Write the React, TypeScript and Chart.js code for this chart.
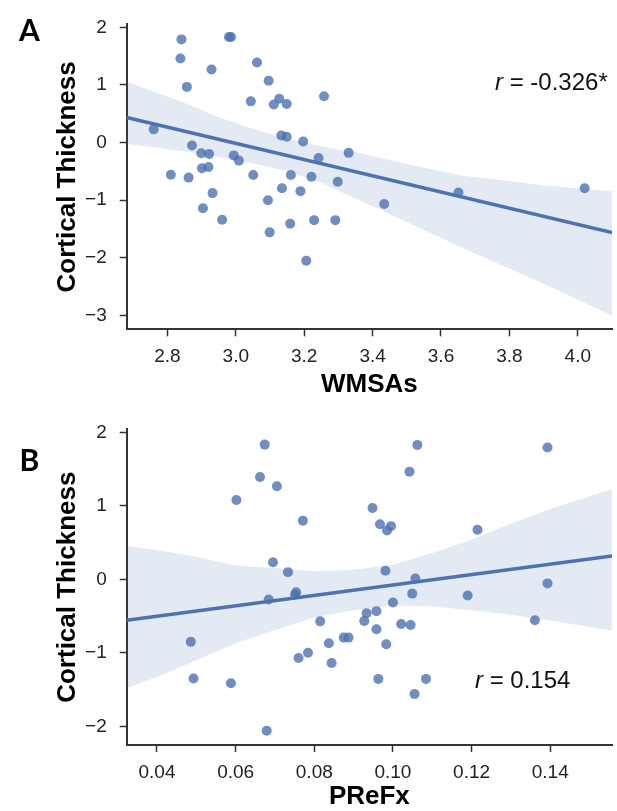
import React, { useEffect, useRef } from "react";
import { Chart, registerables } from "chart.js";

Chart.register(...registerables);

// ---------- Panel A data (WMSAs vs Cortical Thickness) ----------
const wmsaX = [
  2.841, 2.838, 2.857, 2.760, 2.929, 2.980, 2.986, 3.062, 3.096, 3.044,
  3.111, 3.127, 3.149, 3.258, 3.133, 3.149, 3.197, 3.330, 3.242, 2.872,
  2.899, 2.922, 2.994, 3.009, 2.901, 2.920, 2.810, 2.862, 3.051, 3.161,
  3.221, 3.298, 2.932, 2.904, 2.960, 3.094, 3.135, 3.189, 3.099, 3.159,
  3.229, 3.291, 3.206, 3.434, 3.651, 4.020,
];
const wmsaThickness = [
  1.79, 1.457, 0.966, 0.229, 1.268, 1.83, 1.83, 1.39, 1.072, 0.715,
  0.659, 0.759, 0.67, 0.804, 0.122, 0.10, 0.017, -0.179, -0.268, -0.05,
  -0.184, -0.20, -0.223, -0.313, -0.447, -0.424, -0.558, -0.608, -0.564, -0.564,
  -0.592, -0.681, -0.877, -1.139, -1.340, -1.0, -0.793, -0.843, -1.558, -1.407,
  -1.346, -1.346, -2.049, -1.067, -0.866, -0.793,
];
const wmsaBandX = [2.681, 2.76, 2.85, 2.95, 3.05, 3.15, 3.25, 3.35, 3.5, 3.66, 3.9, 4.10];
const wmsaBandUpper = [1.06, 0.88, 0.69, 0.44, 0.24, 0.07, -0.07, -0.17, -0.37, -0.57, -0.74, -0.85];
const wmsaBandLower = [-0.02, -0.08, -0.15, -0.25, -0.36, -0.50, -0.70, -0.97, -1.38, -1.82, -2.45, -3.0];
const wmsaFitX = [2.681, 4.10];
const wmsaFitY = [0.436, -1.563];
const wmsaXTicks = [2.8, 3.0, 3.2, 3.4, 3.6, 3.8, 4.0];
const wmsaYTicks = [-3, -2, -1, 0, 1, 2];
const wmsaR = "-0.326*";

// ---------- Panel B data (PReFx vs Cortical Thickness) ----------
const prefxX = [
  0.0674, 0.0662, 0.0705, 0.0602, 0.0771, 0.0695, 0.0733, 0.0754, 0.0751, 0.0684,
  0.1062, 0.1042, 0.1393, 0.0948, 0.0967, 0.0995, 0.0985, 0.1215, 0.0981, 0.1057,
  0.1393, 0.1049, 0.1190, 0.1000, 0.0933, 0.0958, 0.0927, 0.0958, 0.1021, 0.1045,
  0.1361, 0.0983, 0.0963, 0.1084, 0.1055, 0.0486, 0.0493, 0.0588, 0.0679, 0.0815,
  0.0875, 0.0887, 0.0837, 0.0760, 0.0784, 0.0844,
];
const prefxThickness = [
  1.835, 1.394, 1.269, 1.080, 0.800, 0.234, 0.099, -0.175, -0.205, -0.274,
  1.831, 1.467, 1.795, 0.972, 0.752, 0.725, 0.665, 0.675, 0.117, 0.013,
  -0.054, -0.193, -0.220, -0.315, -0.459, -0.432, -0.567, -0.679, -0.607, -0.621,
  -0.557, -0.882, -1.354, -1.354, -1.561, -0.850, -1.350, -1.413, -2.061, -0.571,
  -0.792, -0.792, -0.868, -1.070, -0.999, -1.138,
];
const prefxBandX = [0.0323, 0.04, 0.05, 0.06, 0.07, 0.08, 0.09, 0.10, 0.11, 0.12, 0.13, 0.14, 0.1557];
const prefxBandUpper = [0.455, 0.40, 0.31, 0.19, 0.155, 0.11, 0.13, 0.20, 0.36, 0.54, 0.76, 0.96, 1.23];
const prefxBandLower = [-1.48, -1.33, -1.10, -0.87, -0.69, -0.52, -0.42, -0.35, -0.37, -0.42, -0.48, -0.56, -0.70];
const prefxFitX = [0.0323, 0.1557];
const prefxFitY = [-0.557, 0.32];
const prefxXTicks = [0.04, 0.06, 0.08, 0.10, 0.12, 0.14];
const prefxYTicks = [-2, -1, 0, 1, 2];
const prefxR = "0.154";

// ---------- styles ----------
const FONT = '"Liberation Sans", Arial, Helvetica, sans-serif';
const LETTER_FONT = 'Lato, "Open Sans", "Liberation Sans", sans-serif';
const POINT = "rgba(76,114,176,0.8)";
const LINE = "#4C72B0";
const BAND = "rgba(76,114,176,0.15)";
const AXIS = "#333333";
const TICK_TEXT = "#222222";

const toPts = (xs: number[], ys: number[]) => xs.map((x, i) => ({ x, y: ys[i] }));
const fmt = (v: number, d: number) => {
  const s = Math.abs(v).toFixed(d);
  return v < 0 ? "\u2212" + s : s;
};

const annotPlugin = {
  id: "annot",
  afterDraw(chart: any, _args: any, o: any) {
    const ctx = chart.ctx;
    ctx.save();
    ctx.fillStyle = "#000";
    ctx.font = `bold 30px ${LETTER_FONT}`;
    ctx.textAlign = "center";
    ctx.textBaseline = "middle";
    ctx.fillText(o.letter, o.letterX, o.letterY);
    ctx.textAlign = "left";
    ctx.textBaseline = "alphabetic";
    ctx.fillStyle = "#111";
    ctx.font = `italic 24px ${FONT}`;
    ctx.fillText("r", o.rX, o.rY);
    const w = ctx.measureText("r").width;
    ctx.font = `24px ${FONT}`;
    ctx.fillText(" = " + o.rValue, o.rX + w, o.rY);
    ctx.restore();
  },
};

type PanelSpec = {
  xs: number[]; ys: number[];
  bandX: number[]; bandUpper: number[]; bandLower: number[];
  fitX: number[]; fitY: number[];
  xTicks: number[]; yTicks: number[]; xDec: number;
  xMin: number; xMax: number; yMin: number; yMax: number;
  xTitle: string; letter: string; rValue: string;
  height: number; padTop: number; xAxisH: number; xTitlePadBottom: number;
  letterY: number; rX: number; rY: number;
};

function Panel({ spec, top }: { spec: PanelSpec; top: number }) {
  const ref = useRef<HTMLCanvasElement>(null);
  useEffect(() => {
    const s = spec;
    const chart = new Chart(ref.current as HTMLCanvasElement, {
      type: "scatter",
      data: {
        datasets: [
          {
            type: "line",
            data: toPts(s.bandX, s.bandUpper),
            borderWidth: 0,
            borderColor: "rgba(0,0,0,0)",
            backgroundColor: BAND,
            pointRadius: 0,
            fill: "+1",
            tension: 0,
            order: 2,
          },
          {
            type: "line",
            data: toPts(s.bandX, s.bandLower),
            borderWidth: 0,
            borderColor: "rgba(0,0,0,0)",
            pointRadius: 0,
            fill: false,
            tension: 0,
            order: 2,
          },
          {
            type: "line",
            data: toPts(s.fitX, s.fitY),
            borderColor: LINE,
            borderWidth: 3.5,
            pointRadius: 0,
            fill: false,
            order: 1,
          },
          {
            type: "scatter",
            data: toPts(s.xs, s.ys),
            backgroundColor: POINT,
            borderWidth: 0,
            pointRadius: 5,
            order: 3,
          },
        ],
      } as any,
      options: {
        animation: false,
        responsive: false,
        devicePixelRatio: 1,
        layout: { padding: { top: s.padTop, right: 0.3, left: 0, bottom: 0 } },
        plugins: {
          legend: { display: false },
          tooltip: { enabled: false },
          annot: {
            letter: s.letter, letterX: 29.5, letterY: s.letterY,
            rX: s.rX, rY: s.rY, rValue: s.rValue,
          },
        } as any,
        scales: {
          x: {
            type: "linear",
            min: s.xMin,
            max: s.xMax,
            afterBuildTicks: (axis: any) => {
              axis.ticks = s.xTicks.map((v) => ({ value: v }));
            },
            afterFit: (axis: any) => {
              axis.height = s.xAxisH;
            },
            grid: {
              display: true,
              drawOnChartArea: false,
              drawTicks: true,
              tickLength: 7,
              tickWidth: 1.5,
              tickColor: AXIS,
            },
            border: { display: true, color: AXIS, width: 2 },
            ticks: {
              padding: 9,
              color: TICK_TEXT,
              font: { family: FONT, size: 19 },
              maxRotation: 0,
              callback: (v: any) => fmt(Number(v), s.xDec),
            },
            title: {
              display: true,
              text: s.xTitle,
              color: "#000",
              font: { family: FONT, size: 26, weight: "bold", lineHeight: 1 },
              padding: { top: 0, bottom: s.xTitlePadBottom },
            },
          },
          y: {
            type: "linear",
            min: s.yMin,
            max: s.yMax,
            afterBuildTicks: (axis: any) => {
              axis.ticks = s.yTicks.map((v) => ({ value: v }));
            },
            afterFit: (axis: any) => {
              axis.width = 126.7;
            },
            grid: {
              display: true,
              drawOnChartArea: false,
              drawTicks: true,
              tickLength: 7,
              tickWidth: 1.5,
              tickColor: AXIS,
            },
            border: { display: true, color: AXIS, width: 2 },
            ticks: {
              padding: 13,
              color: TICK_TEXT,
              font: { family: FONT, size: 19 },
              callback: (v: any) => fmt(Number(v), 0),
            },
            title: {
              display: true,
              text: "Cortical Thickness",
              color: "#000",
              font: { family: FONT, size: 26, weight: "bold", lineHeight: 1 },
              padding: { top: 55, bottom: 0 },
            },
          },
        },
      } as any,
      plugins: [annotPlugin],
    });
    return () => chart.destroy();
  }, [spec]);
  return (
    <canvas
      ref={ref}
      width={617}
      height={spec.height}
      style={{ position: "absolute", left: 0, top, width: 617, height: spec.height }}
    />
  );
}

const specA: PanelSpec = {
  xs: wmsaX, ys: wmsaThickness,
  bandX: wmsaBandX, bandUpper: wmsaBandUpper, bandLower: wmsaBandLower,
  fitX: wmsaFitX, fitY: wmsaFitY,
  xTicks: wmsaXTicks, yTicks: wmsaYTicks, xDec: 1,
  xMin: 2.681, xMax: 4.10, yMin: -3.24, yMax: 2.05,
  xTitle: "WMSAs", letter: "A", rValue: wmsaR,
  height: 405, padTop: 13.3, xAxisH: 75.7, xTitlePadBottom: 7,
  letterY: 31, rX: 495, rY: 90,
};

const specB: PanelSpec = {
  xs: prefxX, ys: prefxThickness,
  bandX: prefxBandX, bandUpper: prefxBandUpper, bandLower: prefxBandLower,
  fitX: prefxFitX, fitY: prefxFitY,
  xTicks: prefxXTicks, yTicks: prefxYTicks, xDec: 2,
  xMin: 0.0323, xMax: 0.1557, yMin: -2.254, yMax: 2.042,
  xTitle: "PReFx", letter: "B", rValue: prefxR,
  height: 406, padTop: 21.7, xAxisH: 66, xTitlePadBottom: 1,
  letterY: 56, rX: 475, rY: 283.3,
};

export default function App() {
  return (
    <div style={{ position: "absolute", left: 0, top: 0, width: 617, height: 811, background: "#fff", overflow: "hidden" }}>
      <Panel spec={specA} top={0} />
      <Panel spec={specB} top={405} />
    </div>
  );
}
